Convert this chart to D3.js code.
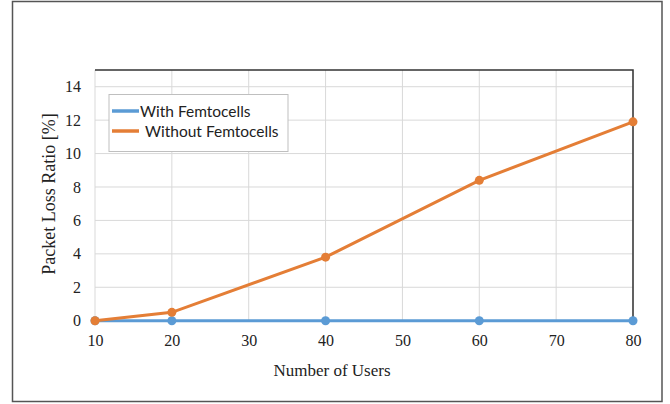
<!DOCTYPE html>
<html><head><meta charset="utf-8">
<script src="https://cdn.jsdelivr.net/npm/d3@7"></script>
<style>body{margin:0;background:#fff}svg{display:block}</style>
</head><body><svg id="c" width="670" height="404"></svg>
<script>
const users = [10, 20, 40, 60, 80];
const withFemto = [0, 0, 0, 0, 0];
const withoutFemto = [0, 0.5, 3.8, 8.4, 11.9];
const xTicks = [10, 20, 30, 40, 50, 60, 70, 80];
const yTicks = [0, 2, 4, 6, 8, 10, 12, 14];
const seriesNames = ["With Femtocells", "Without Femtocells"];
const colors = ["#5B9BD5", "#E47E36"];

const svg = d3.select("#c");
svg.append("rect").attr("x", 12.5).attr("y", 1.5).attr("width", 649.5).attr("height", 400)
  .attr("fill", "#fff").attr("stroke", "#555").attr("stroke-width", 1.5);

const L = 95, R = 633, T = 70, B = 320.7;
const x = d3.scaleLinear().domain([10, 80]).range([L, R]);
const y = d3.scaleLinear().domain([0, 15]).range([B, T]);

const g = svg.append("g");
g.selectAll(".vg").data(xTicks).enter().append("line")
  .attr("x1", d => x(d)).attr("x2", d => x(d)).attr("y1", T).attr("y2", B)
  .attr("stroke", "#d9d9d9").attr("stroke-width", 1);
g.selectAll(".hg").data(yTicks).enter().append("line")
  .attr("x1", L).attr("x2", R).attr("y1", d => y(d)).attr("y2", d => y(d))
  .attr("stroke", "#d9d9d9").attr("stroke-width", 1);
g.append("path").attr("d", `M${L},${T}H${R}V${B}`).attr("fill", "none")
  .attr("stroke", "#333").attr("stroke-width", 1.5);

const serif = "Liberation Serif, Times New Roman, serif";
const xAxis = d3.axisBottom(x).tickValues(xTicks).tickSize(0).tickPadding(14);
const xa = svg.append("g").attr("transform", `translate(0,${B})`).call(xAxis);
const yAxis = d3.axisLeft(y).tickValues(yTicks).tickSize(0).tickPadding(14);
const ya = svg.append("g").attr("transform", `translate(${L},0)`).call(yAxis);
[xa, ya].forEach(a => {
  a.select(".domain").remove();
  a.selectAll("text").attr("font-family", serif).attr("font-size", 16).attr("fill", "#222");
});

svg.append("text").attr("x", 332).attr("y", 376).attr("text-anchor", "middle")
  .attr("font-family", serif).attr("font-size", 17).attr("fill", "#222").text("Number of Users");
svg.append("text").attr("transform", `translate(55,194) rotate(-90)`).attr("text-anchor", "middle")
  .attr("font-family", serif).attr("font-size", 18).attr("fill", "#222").text("Packet Loss Ratio [%]");

const line = d3.line().x((d, i) => x(users[i])).y(d => y(d));
[withFemto, withoutFemto].forEach((s, k) => {
  svg.append("path").datum(s).attr("d", line).attr("fill", "none")
    .attr("stroke", colors[k]).attr("stroke-width", 3);
  svg.selectAll(null).data(s).enter().append("circle")
    .attr("cx", (d, i) => x(users[i])).attr("cy", d => y(d)).attr("r", 4.5)
    .attr("fill", colors[k]);
});

const lg = svg.append("g");
lg.append("rect").attr("x", 109).attr("y", 94.5).attr("width", 179).attr("height", 57)
  .attr("fill", "#fff").attr("stroke", "#bfbfbf").attr("stroke-width", 1);
seriesNames.forEach((n, k) => {
  const yy = 111 + k * 20;
  lg.append("line").attr("x1", 112).attr("x2", 139).attr("y1", yy).attr("y2", yy)
    .attr("stroke", colors[k]).attr("stroke-width", 3.5);
  lg.append("text").attr("x", 140 + k * 5).attr("y", yy + 5.5)
    .attr("font-family", "Lato, Open Sans, sans-serif").attr("font-size", 15.5)
    .attr("fill", "#222").text(n);
});
</script></body></html>
